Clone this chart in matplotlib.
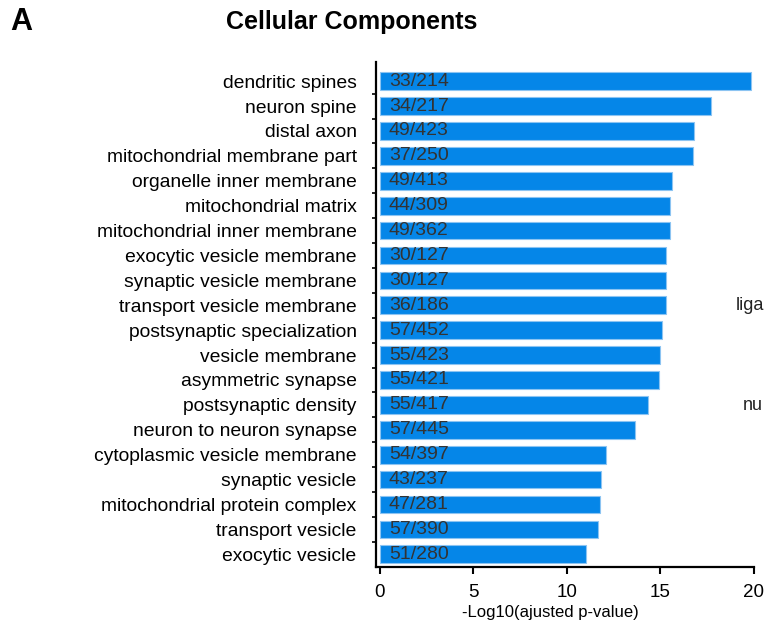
import matplotlib
matplotlib.use("Agg")
import matplotlib.pyplot as plt
from matplotlib.ticker import FixedLocator

plt.rcParams['font.family'] = ['Liberation Sans', 'DejaVu Sans']

categories = [
    "dendritic spines", "neuron spine", "distal axon", "mitochondrial membrane part",
    "organelle inner membrane", "mitochondrial matrix", "mitochondrial inner membrane",
    "exocytic vesicle membrane", "synaptic vesicle membrane", "transport vesicle membrane",
    "postsynaptic specialization", "vesicle membrane", "asymmetric synapse",
    "postsynaptic density", "neuron to neuron synapse", "cytoplasmic vesicle membrane",
    "synaptic vesicle", "mitochondrial protein complex", "transport vesicle", "exocytic vesicle",
]
values = [19.82, 17.71, 16.79, 16.74, 15.61, 15.49, 15.49, 15.29, 15.29, 15.29,
          15.08, 14.96, 14.93, 14.36, 13.62, 12.10, 11.85, 11.78, 11.68, 11.02]
counts = ["33/214", "34/217", "49/423", "37/250", "49/413", "44/309", "49/362",
          "30/127", "30/127", "36/186", "57/452", "55/423", "55/421", "55/417",
          "57/445", "54/397", "43/237", "47/281", "57/390", "51/280"]
xticks = [0, 5, 10, 15, 20]

W, H = 765, 627
fig = plt.figure(figsize=(W / 100, H / 100), dpi=100)
left, right, top, bottom = 376, 754, 62, 567
ax = fig.add_axes([left / W, 1 - bottom / H, (right - left) / W, (bottom - top) / H])

ypos = list(range(len(categories)))
ax.barh(ypos, values, height=0.71, left=0, color='#0586E8',
        edgecolor='#8cc4f2', linewidth=0.8, zorder=2)
for y, c in zip(ypos, counts):
    ax.annotate(c, xy=(0, y), xytext=(6.5, 0), textcoords='offset points',
                ha='left', va='center', fontsize=14, color='#333333', zorder=3)

ax.set_xlim(-0.2, 20)
ax.set_ylim(len(categories) - 0.49, -0.77)
ax.set_yticks(ypos)
ax.set_yticklabels(categories, fontsize=13.9)
ax.yaxis.set_minor_locator(FixedLocator([i + 0.5 for i in range(len(categories) - 1)]))
ax.tick_params(axis='y', which='major', length=0, pad=14)
ax.tick_params(axis='y', which='minor', length=3, width=1.2, direction='out')
ax.set_xticks(xticks)
ax.set_xticklabels([str(t) for t in xticks], fontsize=13.5)
ax.tick_params(axis='x', length=5, width=1.5, pad=7)
for s in ['top', 'right']:
    ax.spines[s].set_visible(False)
for s in ['left', 'bottom']:
    ax.spines[s].set_linewidth(1.6)
ax.spines['bottom'].set_bounds(-0.2, 20)

fig.text(550 / W, 1 - 613 / H, "-Log10(ajusted p-value)", ha='center', va='center', fontsize=12)
fig.text(352 / W, 1 - 22 / H, "Cellular Components", ha='center', va='center',
         fontsize=18, fontweight='bold')
fig.text(10 / W, 1 - 22 / H, "A", ha='left', va='center', fontsize=22, fontweight='bold')
fig.text(736 / W, 1 - 305 / H, "liga", ha='left', va='center', fontsize=13, color='#222222')
fig.text(743 / W, 1 - 406 / H, "nu", ha='left', va='center', fontsize=13, color='#222222')

fig.savefig("out.png", dpi=100)
